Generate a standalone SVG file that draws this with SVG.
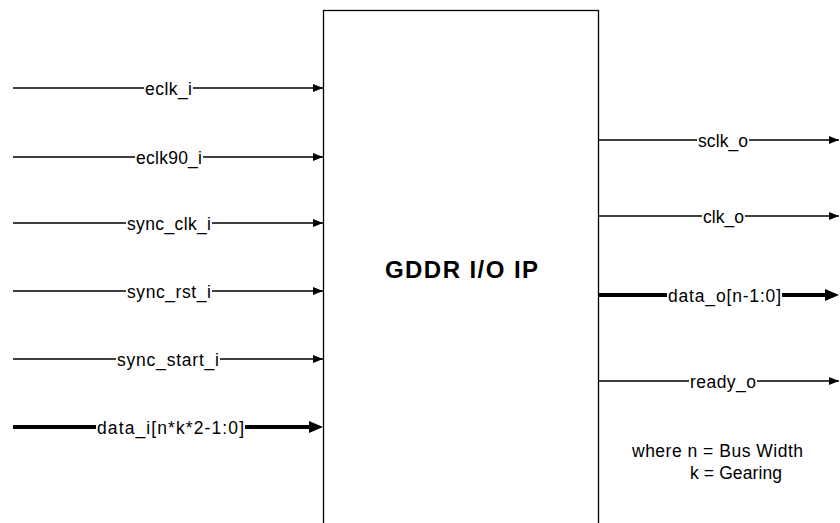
<svg xmlns="http://www.w3.org/2000/svg" width="840" height="523" viewBox="0 0 840 523">
<defs>
<marker id="a" viewBox="0 0 10 8" refX="10" refY="4" markerWidth="10" markerHeight="8" markerUnits="userSpaceOnUse" orient="auto"><path d="M0,0 L10,4 L0,8 Z" fill="#000"/></marker>
</defs>
<style>
.w{stroke:#000;stroke-width:1.3;fill:none}
.b{stroke:#000;stroke-width:4;fill:none}
.l{font-family:"Liberation Sans",Arial,sans-serif;font-size:17.5px;fill:#000}
.n{font-family:"Liberation Sans",Arial,sans-serif;font-size:17.5px;fill:#000}
</style>
<rect width="840" height="523" fill="#fff"/>
<g id="block">
<rect x="323.5" y="10.5" width="275" height="530" fill="#fff" stroke="#000" stroke-width="1.3"/>
<text x="385" y="278" font-family="Liberation Sans,Arial,sans-serif" font-size="24" font-weight="bold" textLength="153" lengthAdjust="spacing">GDDR I/O IP</text>
</g>
<g id="connectors">
<line class="w" x1="13" y1="88" x2="144" y2="88"/>
<line class="w" x1="193" y1="88" x2="323" y2="88" marker-end="url(#a)"/>
<line class="w" x1="13" y1="157" x2="135" y2="157"/>
<line class="w" x1="203" y1="157" x2="323" y2="157" marker-end="url(#a)"/>
<line class="w" x1="13" y1="223" x2="126" y2="223"/>
<line class="w" x1="212" y1="223" x2="323" y2="223" marker-end="url(#a)"/>
<line class="w" x1="13" y1="291" x2="126" y2="291"/>
<line class="w" x1="212" y1="291" x2="323" y2="291" marker-end="url(#a)"/>
<line class="w" x1="13" y1="359" x2="116" y2="359"/>
<line class="w" x1="220" y1="359" x2="323" y2="359" marker-end="url(#a)"/>
<line class="b" x1="13" y1="427" x2="96" y2="427"/>
<line class="b" x1="245" y1="427" x2="310" y2="427"/>
<path d="M309,421 L323,427 L309,433 Z" fill="#000"/>
<line class="w" x1="599" y1="140" x2="697" y2="140"/>
<line class="w" x1="749" y1="140" x2="839" y2="140" marker-end="url(#a)"/>
<line class="w" x1="599" y1="216" x2="702" y2="216"/>
<line class="w" x1="745" y1="216" x2="839" y2="216" marker-end="url(#a)"/>
<line class="b" x1="599" y1="295" x2="667" y2="295"/>
<line class="b" x1="782" y1="295" x2="826" y2="295"/>
<path d="M825,289 L839,295 L825,301 Z" fill="#000"/>
<line class="w" x1="599" y1="381" x2="689" y2="381"/>
<line class="w" x1="757" y1="381" x2="839" y2="381" marker-end="url(#a)"/>
</g>
<g id="labels">
<text class="l" x="145" y="95" textLength="47" lengthAdjust="spacing">eclk_i</text>
<text class="l" x="136" y="164" textLength="66" lengthAdjust="spacing">eclk90_i</text>
<text class="l" x="127" y="230" textLength="84" lengthAdjust="spacing">sync_clk_i</text>
<text class="l" x="127" y="298" textLength="84" lengthAdjust="spacing">sync_rst_i</text>
<text class="l" x="117" y="366" textLength="102" lengthAdjust="spacing">sync_start_i</text>
<text class="l" x="97" y="434" textLength="147" lengthAdjust="spacing">data_i[n*k*2-1:0]</text>
<text class="l" x="698" y="147" textLength="50" lengthAdjust="spacing">sclk_o</text>
<text class="l" x="703" y="223" textLength="41" lengthAdjust="spacing">clk_o</text>
<text class="l" x="668" y="302" textLength="113" lengthAdjust="spacing">data_o[n-1:0]</text>
<text class="l" x="690" y="388" textLength="66" lengthAdjust="spacing">ready_o</text>
</g>
<g id="note">
<text class="n" x="632" y="457" textLength="171" lengthAdjust="spacing">where n = Bus Width</text>
<text class="n" x="690" y="479" textLength="92" lengthAdjust="spacing">k = Gearing</text>
</g>
</svg>
